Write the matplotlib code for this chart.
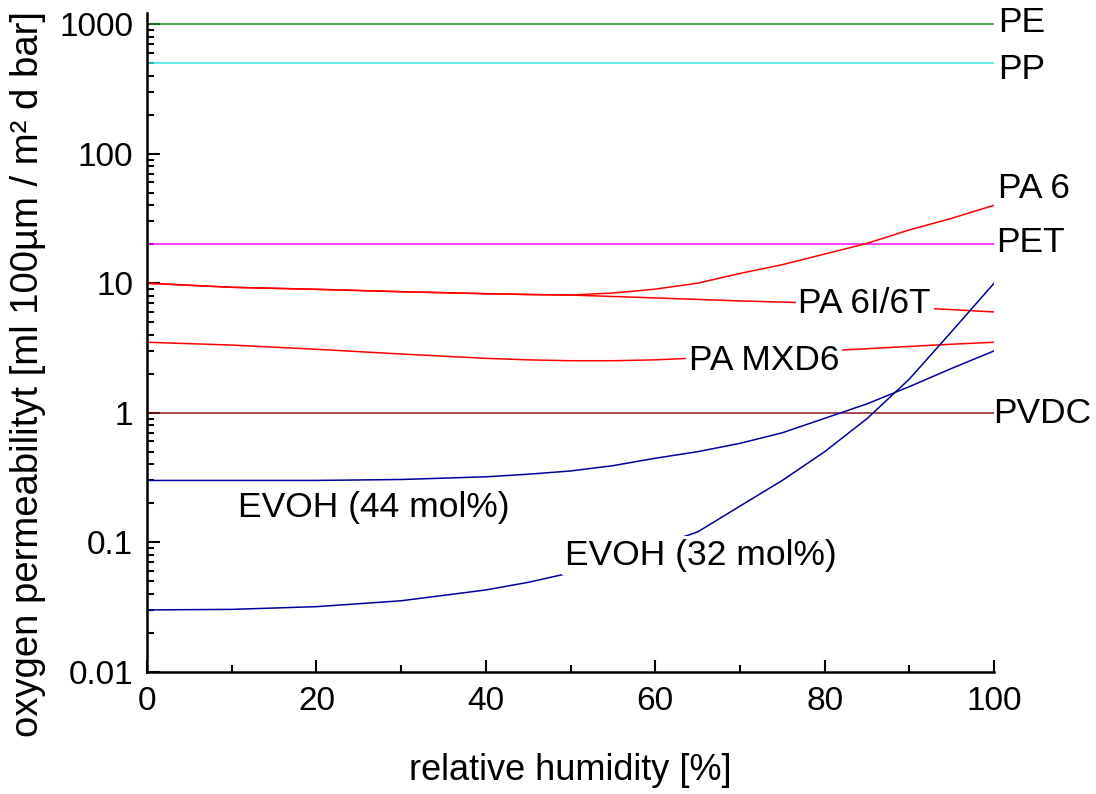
import matplotlib
matplotlib.use("Agg")
import matplotlib.pyplot as plt
from matplotlib.ticker import FixedLocator, LogLocator, NullFormatter

plt.rcParams['font.family'] = ['Liberation Sans', 'DejaVu Sans']

# relative humidity [%]
rh = [0, 10, 20, 30, 40, 45, 50, 55, 60, 65, 70, 75, 80, 85, 90, 95, 100]
rh_flat = [0, 100]

# oxygen permeability
pe = [1000, 1000]
pp = [500, 500]
pet = [20, 20]
pvdc = [1, 1]
pa6 = [10, 9.3, 8.97, 8.6, 8.3, 8.18, 8.1, 8.4, 9.0, 10.0, 11.9, 13.9, 16.8, 20.3, 25.8, 31.7, 40]
pa6i6t = [10, 9.3, 8.97, 8.6, 8.3, 8.18, 8.1, 7.9, 7.7, 7.5, 7.3, 7.15, 7.0, 6.75, 6.5, 6.25, 6.0]
pamxd6 = [3.5, 3.33, 3.09, 2.84, 2.63, 2.56, 2.52, 2.52, 2.56, 2.65, 2.75, 2.87, 3.0, 3.12, 3.25, 3.38, 3.5]
evoh44 = [0.30, 0.30, 0.30, 0.305, 0.32, 0.335, 0.355, 0.39, 0.445, 0.50, 0.58, 0.70, 0.905, 1.17, 1.59, 2.2, 3.0]
evoh32 = [0.030, 0.0303, 0.0318, 0.0353, 0.0428, 0.049, 0.058, 0.072, 0.093, 0.12, 0.19, 0.30, 0.50, 0.90, 1.82, 4.24, 10]

fig = plt.figure(figsize=(10.96, 7.94), dpi=100)
ax = fig.add_axes([0.1341, 0.154, 0.7729, 0.8296])

lw = 1.1
ax.plot(rh_flat, pe, color='#1f8a1f', lw=lw)
ax.plot(rh_flat, pp, color='#33e6e6', lw=lw)
ax.plot(rh_flat, pet, color='#ff00ff', lw=lw)
ax.plot(rh_flat, pvdc, color='#8b1a1a', lw=lw)
ax.plot(rh, pa6, color='#ff0000', lw=lw)
ax.plot(rh, pa6i6t, color='#ff0000', lw=lw)
ax.plot(rh, pamxd6, color='#ff0000', lw=lw)
ax.plot(rh, evoh44, color='#00009c', lw=lw)
ax.plot(rh, evoh32, color='#00009c', lw=lw)

ax.set_yscale('log')
ax.set_xlim(0, 100)
ax.set_ylim(0.01, 1220)

fs = 25.5
# labels at line ends
for xx, yy, s in [(100.5, 871, 'PE'), (100.5, 377, 'PP'), (100.5, 45.5, 'PA 6'),
                  (100.3, 17.4, 'PET'), (99.9, 0.833, 'PVDC')]:
    ax.text(xx, yy, s, fontsize=fs, va='baseline', ha='left', clip_on=False)

# labels sitting on the curves
box = dict(facecolor='white', edgecolor='none', pad=2)
ax.text(76.9, 5.89, 'PA 6I/6T', fontsize=fs, va='baseline', ha='left', bbox=box)
ax.text(64.0, 2.14, 'PA MXD6', fontsize=fs, va='baseline', ha='left', bbox=box)
ax.text(49.35, 0.0667, 'EVOH (32 mol%)', fontsize=fs, va='baseline', ha='left', bbox=box)
ax.text(10.8, 0.157, 'EVOH (44 mol%)', fontsize=fs, va='baseline', ha='left')

ax.spines['top'].set_visible(False)
ax.spines['right'].set_visible(False)
ax.spines['left'].set_linewidth(1.8)
ax.spines['bottom'].set_linewidth(1.8)

ax.xaxis.set_major_locator(FixedLocator([0, 20, 40, 60, 80, 100]))
ax.xaxis.set_minor_locator(FixedLocator([10, 30, 50, 70, 90]))
ax.yaxis.set_major_locator(FixedLocator([0.01, 0.1, 1, 10, 100, 1000]))
ax.yaxis.set_minor_locator(LogLocator(base=10, subs=range(2, 10), numticks=20))
ax.yaxis.set_minor_formatter(NullFormatter())
ax.set_yticklabels(['0.01', '0.1', '1', '10', '100', '1000'])

ax.tick_params(which='major', direction='in', length=9, width=1.5, labelsize=24, pad=10)
ax.tick_params(which='minor', direction='in', length=5, width=1.5)

ax.set_xlabel('relative humidity [%]', fontsize=26, labelpad=26)
ax.set_ylabel('oxygen permeabilityt [ml 100µm / m² d bar]', fontsize=27.5)
ax.yaxis.set_label_coords(-0.119, 0.4527)

fig.savefig('out.png', dpi=100)
